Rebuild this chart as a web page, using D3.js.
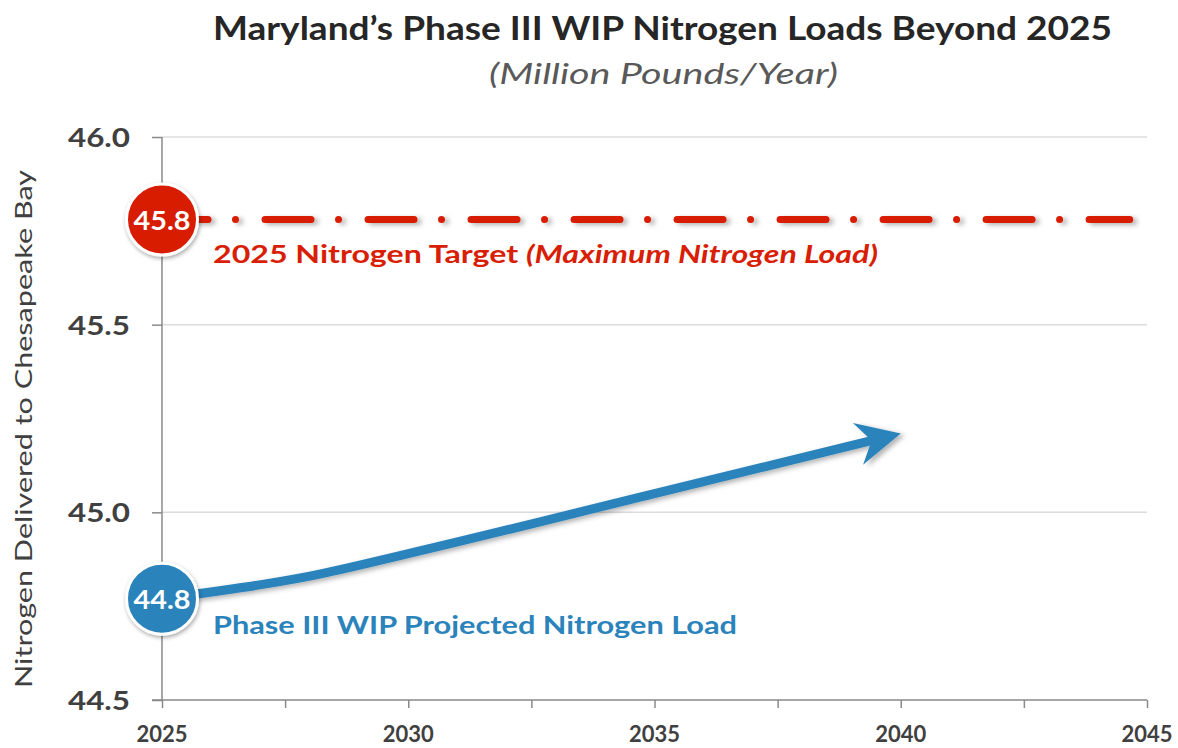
<!DOCTYPE html>
<html>
<head>
<meta charset="utf-8">
<script src="https://cdn.jsdelivr.net/npm/d3@7"></script>
<style>
  html, body { margin: 0; padding: 0; background: #fff; }
  svg { display: block; font-family: Lato, "Open Sans", sans-serif; }
</style>
</head>
<body>
<svg id="chart" width="1178" height="748"></svg>
<script>
// ---- Data ----
const projYears = [2025, 2028, 2030, 2035, 2040];
const projValues = [44.77, 44.83, 44.89, 45.05, 45.21];
const targetYears = [2025, 2044.65];
const targetValue = 45.78;
const yTicks = [44.5, 45.0, 45.5, 46.0];
const xMajorTicks = [2025, 2030, 2035, 2040, 2045];
const xMinorTicks = [2027.5, 2032.5, 2037.5, 2042.5];
const targetBadge = "45.8";
const projBadge = "44.8";
const titleText = "Maryland\u2019s Phase III WIP Nitrogen Loads Beyond 2025";
const subtitleText = "(Million Pounds/Year)";
const yTitleText = "Nitrogen Delivered to Chesapeake Bay";

const RED = "#d81e05";
const BLUE = "#2b83bb";

const svg = d3.select("#chart");
const x = d3.scaleLinear().domain([2025, 2045]).range([162, 1147]);
const y = d3.scaleLinear().domain([44.5, 46.0]).range([700, 137]);

// filters
const defs = svg.append("defs");
const f1 = defs.append("filter").attr("id", "sh").attr("filterUnits", "userSpaceOnUse")
  .attr("x", 0).attr("y", 0).attr("width", 1178).attr("height", 748);
f1.append("feDropShadow").attr("dx", 4).attr("dy", 2).attr("stdDeviation", 2.5)
  .attr("flood-color", "#000").attr("flood-opacity", 0.3);
const f2 = defs.append("filter").attr("id", "shc")
  .attr("x", "-30%").attr("y", "-30%").attr("width", "160%").attr("height", "160%");
f2.append("feDropShadow").attr("dx", 1).attr("dy", 2).attr("stdDeviation", 2)
  .attr("flood-color", "#000").attr("flood-opacity", 0.35);

function fit(sel, w) {
  sel.attr("textLength", w).attr("lengthAdjust", "spacingAndGlyphs");
  return sel;
}

// gridlines
svg.append("g").selectAll("line").data(yTicks.filter(d => d > 44.5)).join("line")
  .attr("x1", x(2025)).attr("x2", x(2045))
  .attr("y1", d => y(d)).attr("y2", d => y(d))
  .attr("stroke", "#dcdcdc").attr("stroke-width", 1.5);

// y axis
const yAxis = svg.append("g").attr("transform", `translate(${x(2025)},0)`)
  .call(d3.axisLeft(y).tickValues(yTicks).tickSize(10).tickFormat(""));
yAxis.select(".domain").attr("stroke", "#8a8a8a").attr("stroke-width", 1.5).attr("d", `M0,${y(46)}V${y(44.5)}`);
yAxis.selectAll(".tick line").attr("stroke", "#8a8a8a").attr("stroke-width", 1.5);

svg.append("g").selectAll("text").data(yTicks).join("text")
  .attr("x", 130).attr("y", d => y(d) + 10)
  .attr("text-anchor", "end")
  .attr("font-size", 26).attr("font-weight", 700).attr("fill", "#404040")
  .text(d => d3.format(".1f")(d))
  .each(function() { fit(d3.select(this), 62); });

// x axis
const xAxis = svg.append("g").attr("transform", `translate(0,${y(44.5)})`)
  .call(d3.axisBottom(x).tickValues(xMajorTicks.concat(xMinorTicks)).tickSize(8).tickFormat(""));
xAxis.select(".domain").attr("stroke", "#8a8a8a").attr("stroke-width", 1.5).attr("d", `M152,0H${x(2045)}`);
xAxis.selectAll(".tick line").attr("stroke", "#8a8a8a").attr("stroke-width", 1.5);

svg.append("g").selectAll("text").data(xMajorTicks).join("text")
  .attr("x", d => x(d)).attr("y", 742)
  .attr("text-anchor", "middle")
  .attr("font-size", 22).attr("font-weight", 700).attr("fill", "#404040")
  .text(d => d)
  .each(function() { fit(d3.select(this), 51); });

// y title
fit(svg.append("text")
  .attr("transform", "translate(32,429) rotate(-90)")
  .attr("text-anchor", "middle")
  .attr("font-size", 24).attr("fill", "#404040")
  .text(yTitleText), 518);

// title
fit(svg.append("text").attr("x", 213).attr("y", 40)
  .attr("font-size", 32).attr("font-weight", 700).attr("fill", "#262626")
  .text(titleText), 899);
fit(svg.append("text").attr("x", 489).attr("y", 84)
  .attr("font-size", 29).attr("font-style", "italic").attr("fill", "#595959")
  .text(subtitleText), 349);

// target line
const line = d3.line().x(d => x(d[0])).y(d => y(d[1]));
svg.append("path")
  .datum(targetYears.map(t => [t, targetValue]))
  .attr("d", line)
  .attr("fill", "none").attr("stroke", RED).attr("stroke-width", 7)
  .attr("stroke-linecap", "round")
  .attr("stroke-dasharray", "46 27.5 0.01 29.5")
  .attr("filter", "url(#sh)");

// projected line
const curve = d3.line().x(d => x(d[0])).y(d => y(d[1])).curve(d3.curveMonotoneX);
const projData = projYears.map((t, i) => [t, projValues[i]]);
const g = svg.append("g").attr("filter", "url(#sh)");
const pth = g.append("path").datum(projData).attr("d", curve)
  .attr("fill", "none").attr("stroke", BLUE).attr("stroke-width", 9);
const L = pth.node().getTotalLength();
pth.attr("stroke-dasharray", `${L - 24} ${L + 10}`);
const tip = pth.node().getPointAtLength(L);
const back = pth.node().getPointAtLength(L - 30);
const ang = Math.atan2(tip.y - back.y, tip.x - back.x) * 180 / Math.PI;
g.append("path")
  .attr("d", "M0,0 L-44,-21.5 L-30,0 L-44,21.5 Z")
  .attr("transform", `translate(${tip.x},${tip.y}) rotate(${ang})`)
  .attr("fill", BLUE);

// labels
const redLabel = svg.append("text").attr("x", 213).attr("y", 263)
  .attr("font-size", 25).attr("font-weight", 700).attr("fill", RED);
redLabel.append("tspan").text("2025 Nitrogen Target ");
redLabel.append("tspan").attr("font-style", "italic").text("(Maximum Nitrogen Load)");
fit(redLabel, 665);

fit(svg.append("text").attr("x", 213).attr("y", 634)
  .attr("font-size", 25).attr("font-weight", 700).attr("fill", BLUE)
  .text("Phase III WIP Projected Nitrogen Load"), 524);

// badges
const badges = [
  { v: targetValue, label: targetBadge, color: RED },
  { v: projValues[0], label: projBadge, color: BLUE }
];
const bg = svg.append("g").selectAll("g").data(badges).join("g")
  .attr("transform", d => `translate(${x(2025)},${y(d.v)})`);
bg.append("circle").attr("r", 35.5).attr("fill", d => d.color)
  .attr("stroke", "#fff").attr("stroke-width", 3).attr("filter", "url(#shc)");
bg.append("text").attr("y", 10).attr("text-anchor", "middle")
  .attr("font-size", 27).attr("font-weight", 700).attr("fill", "#fff")
  .text(d => d.label)
  .each(function() { fit(d3.select(this), 57); });
</script>
</body>
</html>
